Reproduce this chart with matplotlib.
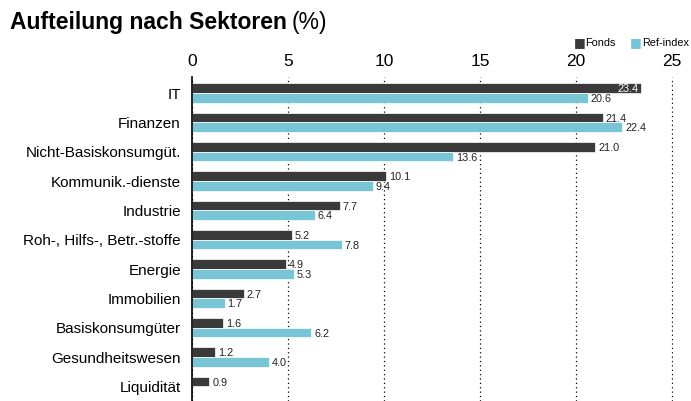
import matplotlib.pyplot as plt
import numpy as np

plt.rcParams['font.family'] = ['Liberation Sans', 'DejaVu Sans']

# Sektoren und Gewichte (%)
sectors = ['IT', 'Finanzen', 'Nicht-Basiskonsumgüt.', 'Kommunik.-dienste', 'Industrie',
           'Roh-, Hilfs-, Betr.-stoffe', 'Energie', 'Immobilien', 'Basiskonsumgüter',
           'Gesundheitswesen', 'Liquidität']
fonds = [23.4, 21.4, 21.0, 10.1, 7.7, 5.2, 4.9, 2.7, 1.6, 1.2, 0.9]
ref_index = [20.6, 22.4, 13.6, 9.4, 6.4, 7.8, 5.3, 1.7, 6.2, 4.0, None]
xticks = [0, 5, 10, 15, 20, 25]

c_fonds = '#3a3a3a'
c_ref = '#77c5d5'

fig = plt.figure(figsize=(6.91, 4.01), dpi=100)
ax = fig.add_axes([0.278, 0.0, 0.696, 0.808])

y = np.arange(len(sectors))
h = 0.33

ax.barh(y - h / 2, fonds, h, color=c_fonds, edgecolor='white', linewidth=0.5)
ref_y = [yy + h / 2 for yy, v in zip(y, ref_index) if v is not None]
ax.barh(ref_y, [v for v in ref_index if v is not None], h, color=c_ref,
        edgecolor='white', linewidth=0.5)

# value labels
for yy, v in zip(y, fonds):
    if v > 23:
        ax.text(v - 0.15, yy - h / 2 + 0.04, '%.1f' % v, color='white', fontsize=7.8,
                ha='right', va='center')
    else:
        ax.text(v + 0.15, yy - h / 2 + 0.04, '%.1f' % v, color='#222222', fontsize=7.8,
                ha='left', va='center')
for yy, v in zip(y, ref_index):
    if v is None:
        continue
    ax.text(v + 0.15, yy + h / 2 + 0.04, '%.1f' % v, color='#222222', fontsize=7.8,
            ha='left', va='center')

ax.set_xlim(0, 25.05)
ax.set_ylim(10.5, -0.55)
ax.set_xticks(xticks)
ax.xaxis.tick_top()
ax.tick_params(axis='x', length=0, labelsize=12.5, pad=6)
ax.set_yticks(y)
ax.set_yticklabels(sectors, fontsize=11)
ax.tick_params(axis='y', length=0, pad=8)
ax.grid(axis='x', color='black', linestyle=(0, (1, 2.5)), linewidth=0.9)
ax.set_axisbelow(True)
for s in ['top', 'right', 'bottom']:
    ax.spines[s].set_visible(False)
ax.spines['left'].set_linewidth(1.2)
ax.spines['left'].set_color('black')

# title: bold part + normal "(%)"
t = fig.text(0.014, 0.943, 'Aufteilung nach Sektoren', fontsize=16.5, fontweight='bold',
             ha='left', va='center')
fig.canvas.draw()
bb = t.get_window_extent().transformed(fig.transFigure.inverted())
fig.text(bb.x1 + 0.008, 0.943, '(%)', fontsize=16.5, ha='left', va='center')

# legend
ly = 0.893
fig.text(0.830, ly, '■', color=c_fonds, fontsize=9, ha='left', va='center',
         family='DejaVu Sans')
fig.text(0.847, ly, 'Fonds', fontsize=7.8, ha='left', va='center')
fig.text(0.912, ly, '■', color=c_ref, fontsize=9, ha='left', va='center',
         family='DejaVu Sans')
fig.text(0.929, ly, 'Ref-index', fontsize=7.8, ha='left', va='center')

fig.savefig('out.png', dpi=100)
